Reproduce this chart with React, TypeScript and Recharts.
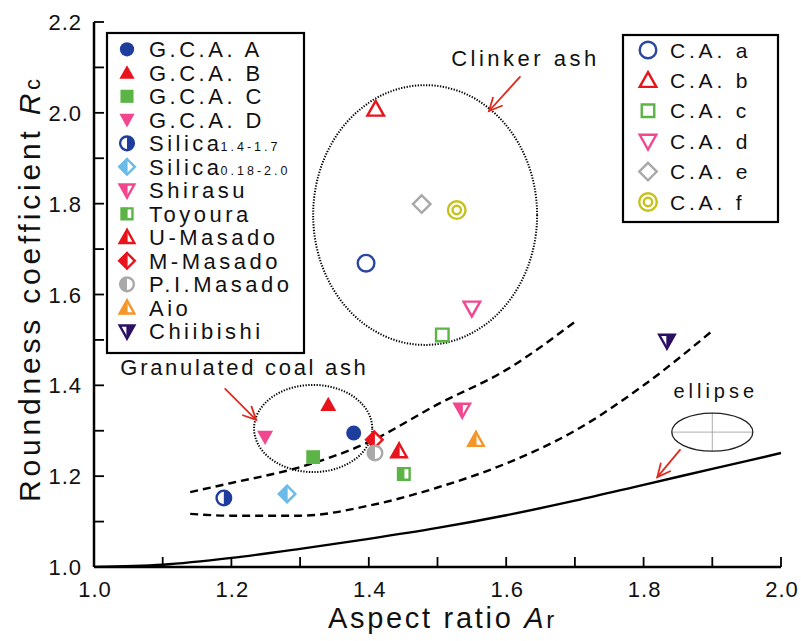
import React from "react";
import {
  ComposedChart,
  XAxis,
  YAxis,
  Scatter,
  Line,
  ReferenceArea,
  ReferenceLine,
  ReferenceDot,
} from "recharts";

const FONT = "'Liberation Sans', Arial, Helvetica, sans-serif";
const W = 801;
const H = 641;

const xTicks = [1.0, 1.1, 1.2, 1.3, 1.4, 1.5, 1.6, 1.7, 1.8, 1.9, 2.0];
const yTicks = [1.0, 1.1, 1.2, 1.3, 1.4, 1.5, 1.6, 1.7, 1.8, 1.9, 2.0, 2.1, 2.2];

type Pt = { x: number; y: number };

// granulated coal ash and natural sands
const gcaA: Pt[] = [{ x: 1.378, y: 1.295 }];
const gcaB: Pt[] = [{ x: 1.341, y: 1.357 }];
const gcaC: Pt[] = [{ x: 1.319, y: 1.242 }];
const gcaD: Pt[] = [{ x: 1.249, y: 1.286 }];
const silicaCoarse: Pt[] = [{ x: 1.189, y: 1.152 }];
const silicaFine: Pt[] = [{ x: 1.281, y: 1.161 }];
const shirasu: Pt[] = [{ x: 1.536, y: 1.346 }];
const toyoura: Pt[] = [{ x: 1.451, y: 1.205 }];
const uMasado: Pt[] = [{ x: 1.444, y: 1.255 }];
const mMasado: Pt[] = [{ x: 1.408, y: 1.28 }];
const piMasado: Pt[] = [{ x: 1.409, y: 1.251 }];
const aio: Pt[] = [{ x: 1.556, y: 1.28 }];
const chiibishi: Pt[] = [{ x: 1.834, y: 1.498 }];

// clinker ash
const caA: Pt[] = [{ x: 1.396, y: 1.669 }];
const caB: Pt[] = [{ x: 1.41, y: 2.008 }];
const caC: Pt[] = [{ x: 1.507, y: 1.511 }];
const caD: Pt[] = [{ x: 1.55, y: 1.57 }];
const caE: Pt[] = [{ x: 1.477, y: 1.799 }];
const caF: Pt[] = [{ x: 1.528, y: 1.786 }];

// reference curves
const ellipseCurve: Pt[] = [
  { x: 1.0, y: 1.0 },
  { x: 1.1, y: 1.005 },
  { x: 1.2, y: 1.02 },
  { x: 1.3, y: 1.04 },
  { x: 1.4, y: 1.062 },
  { x: 1.5, y: 1.086 },
  { x: 1.6, y: 1.114 },
  { x: 1.7, y: 1.146 },
  { x: 1.8, y: 1.181 },
  { x: 1.9, y: 1.216 },
  { x: 2.0, y: 1.251 },
];
const upperBound: Pt[] = [
  { x: 1.14, y: 1.165 },
  { x: 1.2, y: 1.185 },
  { x: 1.3, y: 1.22 },
  { x: 1.4, y: 1.275 },
  { x: 1.5, y: 1.358 },
  { x: 1.6, y: 1.434 },
  { x: 1.7, y: 1.54 },
];
const lowerBound: Pt[] = [
  { x: 1.14, y: 1.117 },
  { x: 1.2, y: 1.113 },
  { x: 1.3, y: 1.113 },
  { x: 1.4, y: 1.135 },
  { x: 1.5, y: 1.175 },
  { x: 1.6, y: 1.228 },
  { x: 1.7, y: 1.3 },
  { x: 1.8, y: 1.4 },
  { x: 1.9, y: 1.52 },
];

const BLUE = "#1f3d9c";
const RED = "#e8141c";
const GREEN = "#5cb446";
const PINK = "#f2478f";
const SKY = "#6bbbe8";
const GRAY = "#a9a9a9";
const ORANGE = "#f5962a";
const PURPLE = "#2b1064";
const OLIVE = "#c6c21c";
const ARROW = "#e02a1e";
const INK = "#111";

type Kind = "circle" | "up" | "down" | "square" | "diamond" | "ring2";
type Fill = "full" | "none" | "left" | "right";

type Series = {
  name: string;
  sub?: string;
  data: Pt[];
  kind: Kind;
  color: string;
  fill: Fill;
  size: number;
};

const granularSeries: Series[] = [
  { name: "G.C.A. A", data: gcaA, kind: "circle", color: BLUE, fill: "full", size: 15 },
  { name: "G.C.A. B", data: gcaB, kind: "up", color: RED, fill: "full", size: 16 },
  { name: "G.C.A. C", data: gcaC, kind: "square", color: GREEN, fill: "full", size: 15 },
  { name: "G.C.A. D", data: gcaD, kind: "down", color: PINK, fill: "full", size: 16 },
  { name: "Silica", sub: "1.4-1.7", data: silicaCoarse, kind: "circle", color: BLUE, fill: "right", size: 17 },
  { name: "Silica", sub: "0.18-2.0", data: silicaFine, kind: "diamond", color: SKY, fill: "left", size: 19 },
  { name: "Shirasu", data: shirasu, kind: "down", color: PINK, fill: "left", size: 18 },
  { name: "Toyoura", data: toyoura, kind: "square", color: GREEN, fill: "left", size: 15 },
  { name: "U-Masado", data: uMasado, kind: "up", color: RED, fill: "left", size: 18 },
  { name: "M-Masado", data: mMasado, kind: "diamond", color: RED, fill: "left", size: 19 },
  { name: "P.I.Masado", data: piMasado, kind: "circle", color: GRAY, fill: "left", size: 17 },
  { name: "Aio", data: aio, kind: "up", color: ORANGE, fill: "left", size: 18 },
  { name: "Chiibishi", data: chiibishi, kind: "down", color: PURPLE, fill: "right", size: 18 },
];

const clinkerSeries: Series[] = [
  { name: "C.A. a", data: caA, kind: "circle", color: "#2b46a0", fill: "none", size: 19 },
  { name: "C.A. b", data: caB, kind: "up", color: RED, fill: "none", size: 19 },
  { name: "C.A. c", data: caC, kind: "square", color: GREEN, fill: "none", size: 16 },
  { name: "C.A. d", data: caD, kind: "down", color: PINK, fill: "none", size: 19 },
  { name: "C.A. e", data: caE, kind: "diamond", color: GRAY, fill: "none", size: 20 },
  { name: "C.A. f", data: caF, kind: "ring2", color: OLIVE, fill: "none", size: 20 },
];

const poly = (pts: number[][]) => pts.map((p) => p.join(",")).join(" ");

function Marker({ cx, cy, kind, color, fill, size }: { cx: number; cy: number; kind: Kind; color: string; fill: Fill; size: number }) {
  const sw = 2.4;
  const outlined = fill !== "full";
  const s = size / 2 - (outlined ? sw / 2 : 0);

  if (kind === "ring2") {
    return (
      <g>
        <circle cx={cx} cy={cy} r={s} fill="none" stroke={color} strokeWidth={sw} />
        <circle cx={cx} cy={cy} r={s * 0.48} fill="none" stroke={color} strokeWidth={sw} />
      </g>
    );
  }

  if (kind === "circle") {
    if (fill === "full") return <circle cx={cx} cy={cy} r={s} fill={color} />;
    if (fill === "none") return <circle cx={cx} cy={cy} r={s} fill="none" stroke={color} strokeWidth={sw} />;
    const sweep = fill === "left" ? 0 : 1;
    return (
      <g>
        <circle cx={cx} cy={cy} r={s} fill="#fff" stroke={color} strokeWidth={sw} />
        <path d={`M${cx},${cy - s} A${s},${s} 0 0 ${sweep} ${cx},${cy + s} Z`} fill={color} />
      </g>
    );
  }

  let pts: number[][] = [];
  let left: number[][] = [];
  let right: number[][] = [];
  if (kind === "up") {
    const top = cy - s * 1.0;
    const bot = cy + s * 0.78;
    pts = [[cx, top], [cx + s, bot], [cx - s, bot]];
    left = [[cx, top], [cx - s, bot], [cx, bot]];
    right = [[cx, top], [cx + s, bot], [cx, bot]];
  } else if (kind === "down") {
    const top = cy - s * 0.78;
    const bot = cy + s * 1.0;
    pts = [[cx - s, top], [cx + s, top], [cx, bot]];
    left = [[cx - s, top], [cx, top], [cx, bot]];
    right = [[cx, top], [cx + s, top], [cx, bot]];
  } else if (kind === "square") {
    const h = s * 0.92;
    pts = [[cx - h, cy - h], [cx + h, cy - h], [cx + h, cy + h], [cx - h, cy + h]];
    left = [[cx - h, cy - h], [cx, cy - h], [cx, cy + h], [cx - h, cy + h]];
    right = [[cx, cy - h], [cx + h, cy - h], [cx + h, cy + h], [cx, cy + h]];
  } else {
    pts = [[cx, cy - s], [cx + s, cy], [cx, cy + s], [cx - s, cy]];
    left = [[cx, cy - s], [cx - s, cy], [cx, cy + s]];
    right = [[cx, cy - s], [cx + s, cy], [cx, cy + s]];
  }

  if (fill === "full") return <polygon points={poly(pts)} fill={color} />;
  if (fill === "none")
    return <polygon points={poly(pts)} fill="none" stroke={color} strokeWidth={sw} strokeLinejoin="miter" />;
  return (
    <g>
      <polygon points={poly(pts)} fill="#fff" stroke={color} strokeWidth={sw} />
      <polygon points={poly(fill === "left" ? left : right)} fill={color} stroke={color} strokeWidth={sw * 0.5} />
    </g>
  );
}

const TICK = 10;
const isMajor = (v: number) => Math.round(v * 10) % 2 === 0;

function BottomTick({ x, y, payload }: any) {
  const v = payload.value as number;
  return (
    <g>
      <line x1={x} x2={x} y1={y} y2={y - TICK} stroke="#000" strokeWidth={1.8} />
      {isMajor(v) && (
        <text x={x + 1} y={y + 30} textAnchor="middle" fontSize={22} fontFamily={FONT} letterSpacing={1} fill={INK}>
          {v.toFixed(1)}
        </text>
      )}
    </g>
  );
}

function LeftTick({ x, y, payload }: any) {
  const v = payload.value as number;
  return (
    <g>
      <line x1={x} x2={x + TICK} y1={y} y2={y} stroke="#000" strokeWidth={1.8} />
      {isMajor(v) && (
        <text x={x - 12} y={y + 8} textAnchor="end" fontSize={22} fontFamily={FONT} letterSpacing={1} fill={INK}>
          {v.toFixed(1)}
        </text>
      )}
    </g>
  );
}

function TopTick({ x, y }: any) {
  return <line x1={x} x2={x} y1={y} y2={y + TICK} stroke="#000" strokeWidth={1.8} />;
}

function RightTick({ x, y }: any) {
  return <line x1={x} x2={x - TICK} y1={y} y2={y} stroke="#000" strokeWidth={1.8} />;
}

function XTitle({ viewBox }: any) {
  const cx = viewBox.x + viewBox.width / 2 + 5;
  return (
    <text x={cx} y={viewBox.y + 61} textAnchor="middle" fontSize={29} fontFamily={FONT} letterSpacing={2.7} fill={INK}>
      Aspect ratio <tspan fontStyle="italic">A</tspan>
      <tspan fontSize={24}>r</tspan>
    </text>
  );
}

function YTitle({ viewBox }: any) {
  const cy = viewBox.y + viewBox.height / 2 - 6;
  return (
    <text
      transform={`translate(40, ${cy}) rotate(-90)`}
      textAnchor="middle"
      fontSize={30}
      fontFamily={FONT}
      letterSpacing={3.8}
      fill={INK}
    >
      Roundness coefficient <tspan fontStyle="italic">R</tspan>
      <tspan fontSize={22}>c</tspan>
    </text>
  );
}

function Arrow(props: any) {
  const { x1, y1, x2, y2 } = props;
  const a = Math.atan2(y2 - y1, x2 - x1);
  const len = 14;
  const spread = 0.45;
  const hx1 = x2 - len * Math.cos(a - spread);
  const hy1 = y2 - len * Math.sin(a - spread);
  const hx2 = x2 - len * Math.cos(a + spread);
  const hy2 = y2 - len * Math.sin(a + spread);
  return (
    <g stroke={ARROW} strokeWidth={1.8} fill="none" strokeLinecap="round">
      <line x1={x1} y1={y1} x2={x2} y2={y2} />
      <polyline points={`${hx1},${hy1} ${x2},${y2} ${hx2},${hy2}`} />
    </g>
  );
}

function DottedEllipse(props: any) {
  const { x, y, width, height } = props;
  return (
    <ellipse
      cx={x + width / 2}
      cy={y + height / 2}
      rx={width / 2}
      ry={height / 2}
      fill="none"
      stroke="#000"
      strokeWidth={2}
      strokeDasharray="1.3 1.5"
    />
  );
}

function EllipseIcon(props: any) {
  const { x, y, width, height } = props;
  const cx = x + width / 2;
  const cy = y + height / 2;
  return (
    <g fill="none">
      <line x1={x} x2={x + width} y1={cy} y2={cy} stroke="#999" strokeWidth={0.8} />
      <line x1={cx} x2={cx} y1={y} y2={y + height} stroke="#999" strokeWidth={0.8} />
      <ellipse cx={cx} cy={cy} rx={width / 2} ry={height / 2} stroke="#222" strokeWidth={1.3} />
    </g>
  );
}

const note = (text: string, size: number, spacing: number) => (p: any) =>
  (
    <text x={p.cx} y={p.cy} textAnchor="middle" fontSize={size} fontFamily={FONT} letterSpacing={spacing} fill={INK}>
      {text}
    </text>
  );

function LegendBox({
  series, x, y, w, h, markerX, textX, rowY, gap, fontSize, spacing, markerScale,
}: {
  series: Series[]; x: number; y: number; w: number; h: number; markerX: number; textX: number;
  rowY: number; gap: number; fontSize: number; spacing: number; markerScale: number;
}) {
  return (
    <g>
      <rect x={x} y={y} width={w} height={h} fill="#fff" stroke="#000" strokeWidth={2.2} />
      {series.map((s, i) => {
        const cy = rowY + i * gap;
        return (
          <g key={s.name + (s.sub || "")}>
            <Marker cx={markerX} cy={cy} kind={s.kind} color={s.color} fill={s.fill} size={s.size * markerScale} />
            <text x={textX} y={cy + fontSize * 0.36} fontSize={fontSize} fontFamily={FONT} letterSpacing={spacing} fill={INK}>
              {s.name}
              {s.sub && (
                <tspan dx={-2} fontSize={12.5} letterSpacing={3}>
                  {s.sub}
                </tspan>
              )}
            </text>
          </g>
        );
      })}
    </g>
  );
}

const renderShape = (s: Series) => (p: any) =>
  <Marker cx={p.cx} cy={p.cy} kind={s.kind} color={s.color} fill={s.fill} size={s.size} />;

export default function App() {
  return (
    <div style={{ position: "absolute", left: 0, top: 0, width: W, height: H, background: "#fff" }}>
      <ComposedChart width={W} height={H} margin={{ top: 22, right: 20, bottom: 0, left: 0 }}>
        <XAxis
          dataKey="x"
          type="number"
          domain={[1, 2]}
          allowDataOverflow
          ticks={xTicks}
          interval={0}
          height={74}
          tickSize={0}
          tickMargin={0}
          tick={<BottomTick />}
          axisLine={{ stroke: "#000", strokeWidth: 2.5 }}
          label={<XTitle />}
        />
        <XAxis
          xAxisId="top"
          orientation="top"
          dataKey="x"
          type="number"
          domain={[1, 2]}
          allowDataOverflow
          ticks={xTicks}
          interval={0}
          height={0}
          tickSize={0}
          tickMargin={0}
          tick={<TopTick />}
          axisLine={{ stroke: "#000", strokeWidth: 2.5 }}
        />
        <YAxis
          dataKey="y"
          type="number"
          domain={[1, 2.2]}
          allowDataOverflow
          ticks={yTicks}
          interval={0}
          width={94}
          tickSize={0}
          tickMargin={0}
          tick={<LeftTick />}
          axisLine={{ stroke: "#000", strokeWidth: 2.5 }}
          label={<YTitle />}
        />
        <YAxis
          yAxisId="right"
          orientation="right"
          dataKey="y"
          type="number"
          domain={[1, 2.2]}
          allowDataOverflow
          ticks={yTicks}
          interval={0}
          width={0}
          tickSize={0}
          tickMargin={0}
          tick={<RightTick />}
          axisLine={{ stroke: "#000", strokeWidth: 2.5 }}
        />

        {/* group outlines */}
        <ReferenceArea x1={1.319} x2={1.645} y1={1.489} y2={2.061} shape={<DottedEllipse />} />
        <ReferenceArea x1={1.233} x2={1.405} y1={1.209} y2={1.401} shape={<DottedEllipse />} />
        <ReferenceArea x1={1.841} x2={1.959} y1={1.255} y2={1.339} shape={<EllipseIcon />} />

        <Line data={ellipseCurve} dataKey="y" type="monotone" stroke="#000" strokeWidth={2.4} dot={false} activeDot={false} isAnimationActive={false} />
        <Line data={upperBound} dataKey="y" type="monotone" stroke="#000" strokeWidth={2.4} strokeDasharray="8 5" dot={false} activeDot={false} isAnimationActive={false} />
        <Line data={lowerBound} dataKey="y" type="monotone" stroke="#000" strokeWidth={2.4} strokeDasharray="8 5" dot={false} activeDot={false} isAnimationActive={false} />

        {/* annotation arrows */}
        <ReferenceLine segment={[{ x: 1.62, y: 2.079 }, { x: 1.575, y: 2.004 }]} shape={<Arrow />} ifOverflow="visible" />
        <ReferenceLine segment={[{ x: 1.191, y: 1.392 }, { x: 1.236, y: 1.324 }]} shape={<Arrow />} ifOverflow="visible" />
        <ReferenceLine segment={[{ x: 1.853, y: 1.258 }, { x: 1.82, y: 1.198 }]} shape={<Arrow />} ifOverflow="visible" />

        <ReferenceDot x={1.628} y={2.103} r={0} shape={note("Clinker ash", 22, 3.5)} ifOverflow="visible" />
        <ReferenceDot x={1.219} y={1.423} r={0} shape={note("Granulated coal ash", 22, 2.7)} ifOverflow="visible" />
        <ReferenceDot x={1.905} y={1.372} r={0} shape={note("ellipse", 20, 4)} ifOverflow="visible" />

        {[...granularSeries, ...clinkerSeries].map((s) => (
          <Scatter
            key={s.name + (s.sub || "")}
            name={s.name}
            data={s.data}
            shape={renderShape(s)}
            isAnimationActive={false}
          />
        ))}
      </ComposedChart>

      <svg width={W} height={H} style={{ position: "absolute", left: 0, top: 0, pointerEvents: "none" }}>
        <LegendBox
          series={granularSeries}
          x={107} y={33} w={197} h={320}
          markerX={127} textX={149} rowY={49.3} gap={23.5}
          fontSize={22} spacing={3.5} markerScale={0.95}
        />
        <LegendBox
          series={clinkerSeries}
          x={623} y={35} w={155} h={187}
          markerX={648} textX={670} rowY={50} gap={30.4}
          fontSize={21} spacing={3.8} markerScale={1}
        />
      </svg>
    </div>
  );
}
